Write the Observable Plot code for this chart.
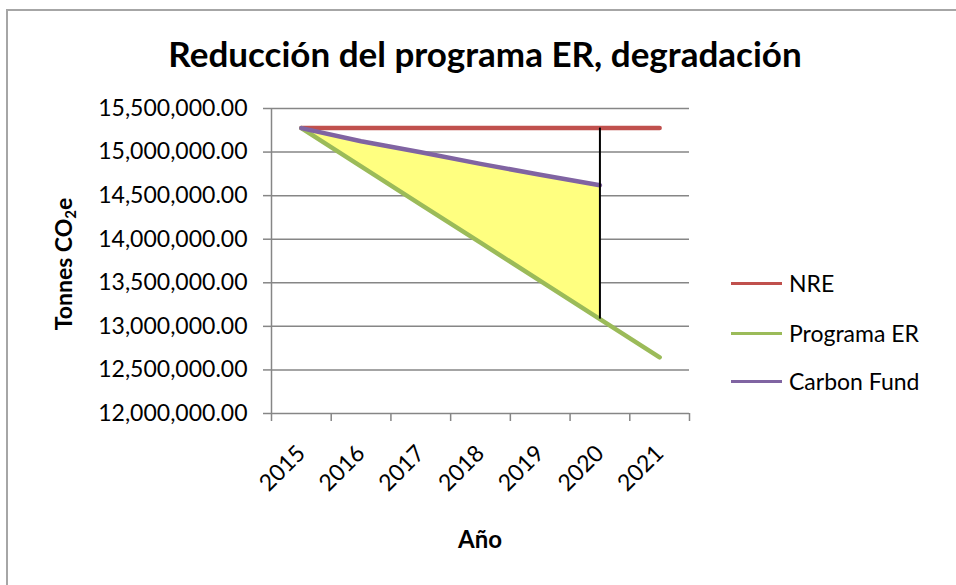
<!DOCTYPE html>
<html><head><meta charset="utf-8">
<script src="https://cdn.jsdelivr.net/npm/d3@7"></script>
<script src="https://cdn.jsdelivr.net/npm/@observablehq/plot@0.6"></script>
<style>
html,body{margin:0;padding:0;background:#fff;width:956px;height:585px;overflow:hidden;font-family:Lato,"Open Sans",sans-serif;color:#000;}
#frame{position:absolute;left:6px;top:9px;width:1200px;height:800px;border-left:2px solid #a6a6a6;border-top:2px solid #a6a6a6;}
#chart{position:absolute;left:0;top:0;}
#title{position:absolute;left:0;width:970px;top:33px;text-align:center;font-weight:bold;font-size:35px;line-height:40px;}
#ylabel{position:absolute;left:63px;top:264px;transform:translate(-50%,-50%) rotate(-90deg);font-weight:bold;font-size:23px;white-space:nowrap;}
#ylabel sub{font-size:15px;vertical-align:-4px;line-height:0;}
#xlabel{position:absolute;left:480px;top:538px;transform:translate(-50%,-50%);font-weight:bold;font-size:24px;}
.leg{position:absolute;left:731px;height:28px;display:flex;align-items:center;font-size:23px;white-space:nowrap;transform:translateY(-50%);}
.leg span.sw{display:inline-block;width:51px;height:3px;margin-right:7px;}
</style></head>
<body>
<div id="frame"></div>
<div id="chart"></div>
<div id="title">Reducción del programa ER, degradación</div>
<div id="ylabel">Tonnes CO<sub>2</sub>e</div>
<div id="xlabel">Año</div>
<div id="legend"></div>
<script>
// ---- data ----
const years = [2015, 2016, 2017, 2018, 2019, 2020, 2021];
const nre = [15275000, 15275000, 15275000, 15275000, 15275000, 15275000, 15275000];
const programaER = [15275000, 14837000, 14398000, 13960000, 13522000, 13083000, 12645000];
const carbonFund = [15275000, 15125000, 14998000, 14865000, 14739000, 14620000];
const yTicks = [12000000, 12500000, 13000000, 13500000, 14000000, 14500000, 15000000, 15500000];
const seriesNames = ["NRE", "Programa ER", "Carbon Fund"];
const seriesColors = ["#c0504d", "#9bbb59", "#8064a2"];

// ---- derived tables ----
const seriesValues = [nre, programaER, carbonFund];
const lineData = seriesNames.map((name, s) =>
  seriesValues[s].map((v, i) => ({series: name, year: years[i], value: v})));
const areaData = carbonFund.map((v, i) => ({year: years[i], er: programaER[i], cf: v}));
const last = carbonFund.length - 1;
const boundaries = years.map(y => y - 0.5).concat([years[years.length - 1] + 0.5]);
const gridColor = "#868686";

const chart = Plot.plot({
  width: 956, height: 585,
  marginLeft: 271, marginRight: 267, marginTop: 108, marginBottom: 172,
  style: {fontFamily: "Lato, 'Open Sans', sans-serif", fontSize: "23px", color: "#000", background: "transparent", overflow: "visible"},
  x: {type: "linear", domain: [boundaries[0], boundaries[boundaries.length - 1]]},
  y: {domain: [yTicks[0], yTicks[yTicks.length - 1]]},
  marks: [
    Plot.gridY(yTicks, {stroke: gridColor, strokeOpacity: 1, strokeWidth: 1.5}),
    Plot.ruleX([boundaries[0]], {stroke: gridColor, strokeWidth: 1.5}),
    Plot.axisY(yTicks, {tickFormat: d3.format(",.2f"), tickSize: 8, tickPadding: 16, label: null, stroke: gridColor, strokeWidth: 1.5, fontSize: 23}),
    Plot.axisX(boundaries, {tickFormat: () => "", tickSize: 8, label: null, stroke: gridColor, strokeWidth: 1.5}),
    Plot.axisX(years, {tickSize: 0, tickRotate: -45, tickPadding: 36, tickFormat: d => String(d), label: null, fontSize: 23}),
    Plot.areaY(areaData, {x: "year", y1: "er", y2: "cf", fill: "#ffff80", fillOpacity: 1}),
    Plot.line(lineData[0], {x: "year", y: "value", stroke: seriesColors[0], strokeWidth: 4.5, strokeLinecap: "round"}),
    Plot.line(lineData[1], {x: "year", y: "value", stroke: seriesColors[1], strokeWidth: 4.5, strokeLinecap: "round"}),
    Plot.line(lineData[2], {x: "year", y: "value", stroke: seriesColors[2], strokeWidth: 4.5, strokeLinecap: "round"}),
    Plot.ruleX([years[last]], {y1: programaER[last], y2: nre[last], stroke: "#000", strokeWidth: 2})
  ]
});
document.getElementById("chart").appendChild(chart);

// legend
const legTops = [283, 333, 381];
const legend = document.getElementById("legend");
seriesNames.forEach((name, i) => {
  const d = document.createElement("div");
  d.className = "leg";
  d.style.top = legTops[i] + "px";
  d.innerHTML = `<span class="sw" style="background:${seriesColors[i]}"></span><span>${name}</span>`;
  legend.appendChild(d);
});
</script>
</body></html>
